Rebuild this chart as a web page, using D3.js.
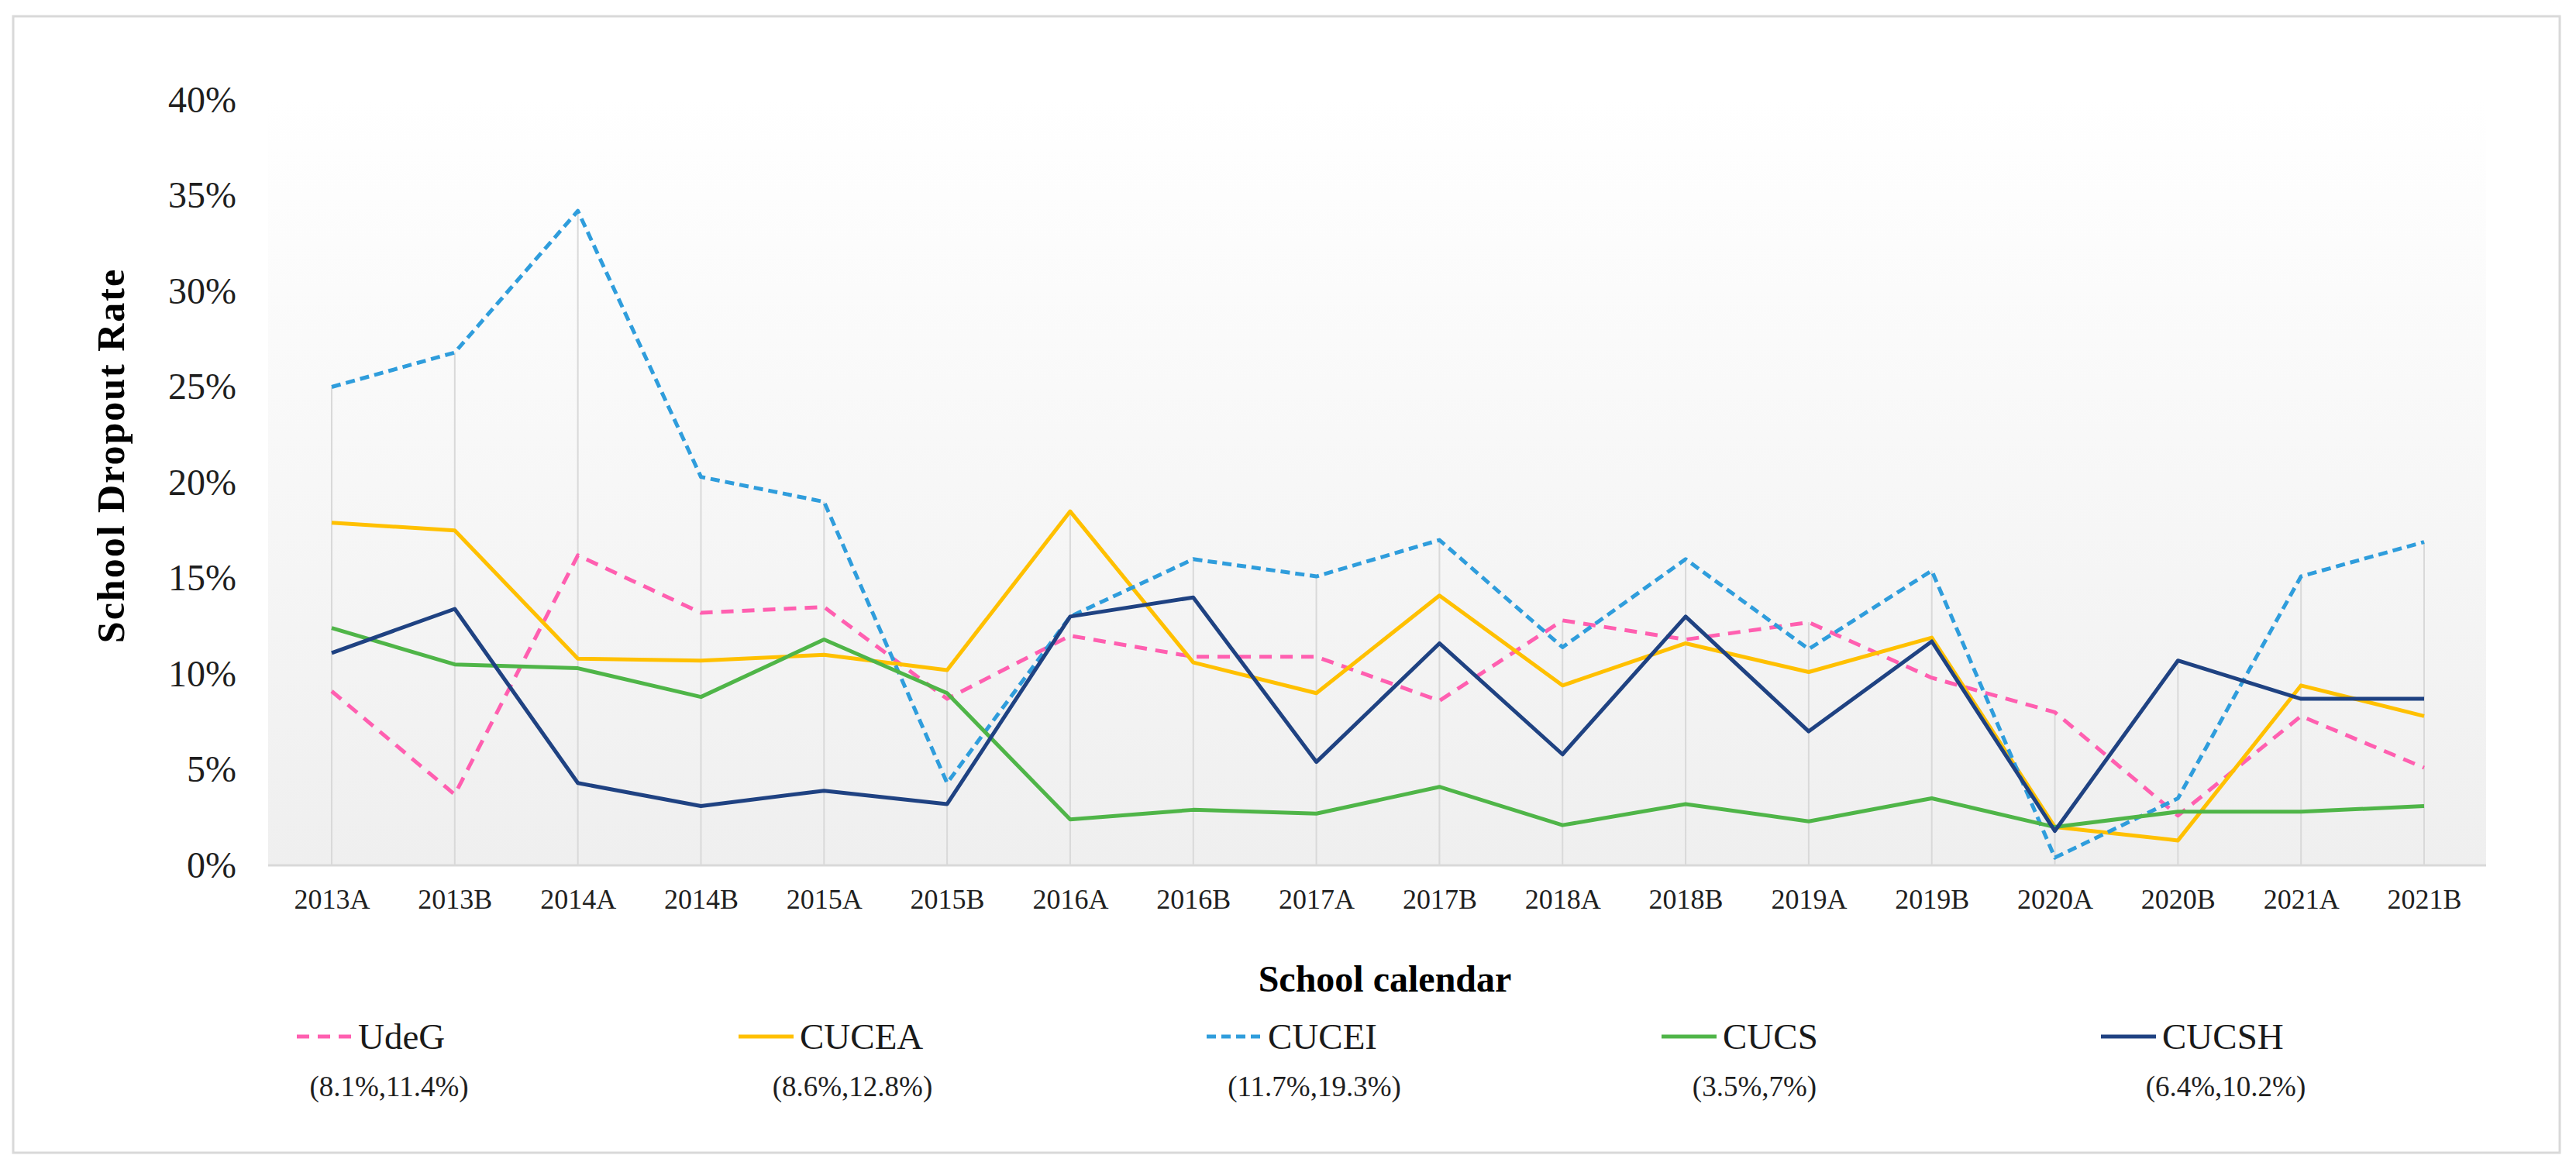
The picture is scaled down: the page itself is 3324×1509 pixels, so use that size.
<!DOCTYPE html>
<html>
<head>
<meta charset="utf-8">
<script src="https://cdn.jsdelivr.net/npm/d3@7"></script>
<style>
  body { margin: 0; background: #fff; }
  text { font-family: "Liberation Serif", "Times New Roman", serif; }
</style>
</head>
<body>
<svg id="chart" width="3324" height="1509"></svg>
<script>
  const categories = ["2013A", "2013B", "2014A", "2014B", "2015A", "2015B", "2016A", "2016B", "2017A",
    "2017B", "2018A", "2018B", "2019A", "2019B", "2020A", "2020B", "2021A", "2021B"];

  const udeg  = [9.1, 3.7, 16.2, 13.2, 13.5, 8.7, 12.0, 10.9, 10.9, 8.6, 12.8, 11.8, 12.7, 9.8, 8.0, 2.6, 7.8, 5.1];
  const cucea = [17.9, 17.5, 10.8, 10.7, 11.0, 10.2, 18.5, 10.6, 9.0, 14.1, 9.4, 11.6, 10.1, 11.9, 2.0, 1.3, 9.4, 7.8];
  const cucei = [25.0, 26.8, 34.2, 20.3, 19.0, 4.3, 13.0, 16.0, 15.1, 17.0, 11.4, 16.0, 11.3, 15.4, 0.4, 3.5, 15.1, 16.9];
  const cucs  = [12.4, 10.5, 10.3, 8.8, 11.8, 9.0, 2.4, 2.9, 2.7, 4.1, 2.1, 3.2, 2.3, 3.5, 2.0, 2.8, 2.8, 3.1];
  const cucsh = [11.1, 13.4, 4.3, 3.1, 3.9, 3.2, 13.0, 14.0, 5.4, 11.6, 5.8, 13.0, 7.0, 11.7, 1.8, 10.7, 8.7, 8.7];

  const seriesNames = ["UdeG", "CUCEA", "CUCEI", "CUCS", "CUCSH"];
  const seriesRanges = ["(8.1%,11.4%)", "(8.6%,12.8%)", "(11.7%,19.3%)", "(3.5%,7%)", "(6.4%,10.2%)"];
  const yTicks = [0, 5, 10, 15, 20, 25, 30, 35, 40];

  const series = [
    { name: seriesNames[0], range: seriesRanges[0], values: udeg,  color: "#ff5fb0", dash: "16,11" },
    { name: seriesNames[1], range: seriesRanges[1], values: cucea, color: "#ffc000", dash: null },
    { name: seriesNames[2], range: seriesRanges[2], values: cucei, color: "#2f9ddc", dash: "12,7" },
    { name: seriesNames[3], range: seriesRanges[3], values: cucs,  color: "#4fb548", dash: null },
    { name: seriesNames[4], range: seriesRanges[4], values: cucsh, color: "#1f4282", dash: null },
  ];

  const svg = d3.select("#chart");

  // outer frame
  svg.append("rect")
    .attr("x", 17).attr("y", 21)
    .attr("width", 3286).attr("height", 1467)
    .attr("fill", "#fff")
    .attr("stroke", "#d9d9d9")
    .attr("stroke-width", 3);

  const plot = { left: 346, right: 3208, top: 129, bottom: 1117 };

  const x = d3.scalePoint()
    .domain(categories)
    .range([428, 3128]);

  const y = d3.scaleLinear()
    .domain([0, 40])
    .range([plot.bottom, plot.top]);

  // plot area gradient
  const grad = svg.append("defs").append("linearGradient")
    .attr("id", "bg").attr("x1", 0).attr("y1", 0).attr("x2", 0).attr("y2", 1);
  grad.append("stop").attr("offset", "0%").attr("stop-color", "#ffffff");
  grad.append("stop").attr("offset", "100%").attr("stop-color", "#efefef");

  svg.append("rect")
    .attr("x", plot.left).attr("y", plot.top)
    .attr("width", plot.right - plot.left)
    .attr("height", plot.bottom - plot.top)
    .attr("fill", "url(#bg)");

  // drop lines, from the highest point down to the axis
  svg.append("g")
    .selectAll("line")
    .data(categories)
    .join("line")
    .attr("x1", (d) => x(d))
    .attr("x2", (d) => x(d))
    .attr("y1", (d, i) => y(d3.max(series, (s) => s.values[i])))
    .attr("y2", plot.bottom)
    .attr("stroke", "#d9d9d9")
    .attr("stroke-width", 2);

  // x axis line
  svg.append("line")
    .attr("x1", plot.left).attr("x2", plot.right)
    .attr("y1", plot.bottom).attr("y2", plot.bottom)
    .attr("stroke", "#d9d9d9")
    .attr("stroke-width", 3);

  // y axis labels
  const yAxis = svg.append("g")
    .attr("transform", "translate(305,0)")
    .call(d3.axisLeft(y).tickValues(yTicks).tickSize(0).tickPadding(0).tickFormat((d) => d + "%"));
  yAxis.select(".domain").remove();
  yAxis.selectAll("text")
    .attr("font-size", 48)
    .attr("fill", "#1f1f1f")
    .attr("font-family", "Liberation Serif");

  // x axis labels
  const xAxis = svg.append("g")
    .attr("transform", `translate(0,${plot.bottom})`)
    .call(d3.axisBottom(x).tickSize(0).tickPadding(30));
  xAxis.select(".domain").remove();
  xAxis.selectAll("text")
    .attr("font-size", 36)
    .attr("fill", "#1f1f1f")
    .attr("font-family", "Liberation Serif");

  // lines
  const line = d3.line()
    .x((d, i) => x(categories[i]))
    .y((d) => y(d));

  svg.append("g")
    .selectAll("path")
    .data(series)
    .join("path")
    .attr("d", (d) => line(d.values))
    .attr("fill", "none")
    .attr("stroke", (d) => d.color)
    .attr("stroke-width", 5)
    .attr("stroke-linejoin", "round")
    .attr("stroke-dasharray", (d) => d.dash);

  // axis titles
  svg.append("text")
    .attr("transform", "translate(160,588) rotate(-90)")
    .attr("text-anchor", "middle")
    .attr("font-size", 50)
    .attr("font-weight", "bold")
    .attr("letter-spacing", 2)
    .text("School Dropout Rate");

  svg.append("text")
    .attr("x", 1787).attr("y", 1280)
    .attr("text-anchor", "middle")
    .attr("font-size", 48)
    .attr("font-weight", "bold")
    .text("School calendar");

  // legend
  const legendX = [383, 953, 1557, 2144, 2711];
  const rangeX = [502, 1100, 1696, 2264, 2872];

  const item = svg.append("g")
    .selectAll("g")
    .data(series)
    .join("g");

  item.append("line")
    .attr("x1", (d, i) => legendX[i])
    .attr("x2", (d, i) => legendX[i] + 71)
    .attr("y1", 1338).attr("y2", 1338)
    .attr("stroke", (d) => d.color)
    .attr("stroke-width", 5)
    .attr("stroke-dasharray", (d) => d.dash);

  item.append("text")
    .attr("x", (d, i) => legendX[i] + 79)
    .attr("y", 1354)
    .attr("font-size", 47)
    .attr("fill", "#1a1a1a")
    .text((d) => d.name);

  item.append("text")
    .attr("x", (d, i) => rangeX[i])
    .attr("y", 1415)
    .attr("text-anchor", "middle")
    .attr("font-size", 37)
    .attr("fill", "#1f1f1f")
    .text((d) => d.range);
</script>
</body>
</html>
